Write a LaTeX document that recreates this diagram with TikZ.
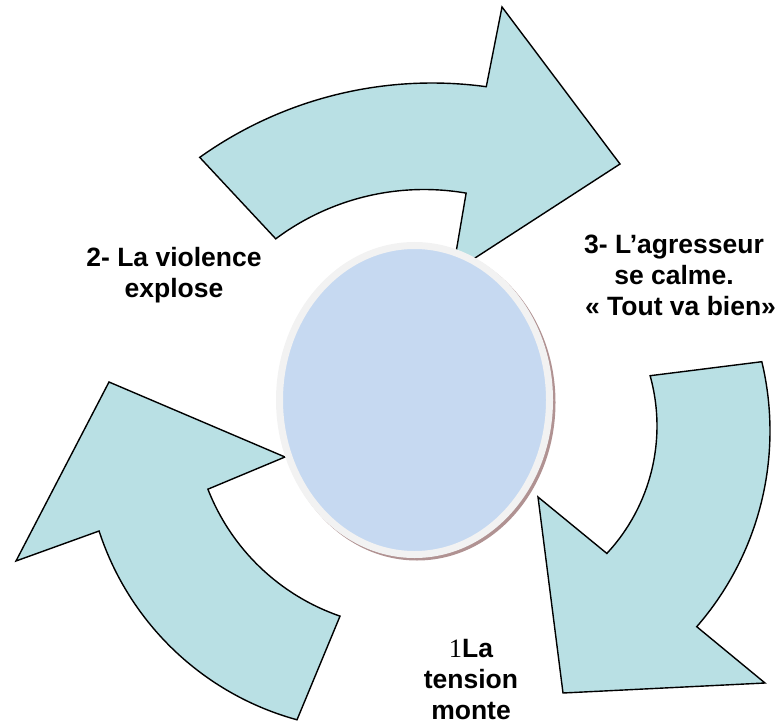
\documentclass[tikz,border=0pt]{standalone}
\usepackage{fontspec}
\setmainfont{Liberation Sans}
\newfontfamily\serifone{Liberation Serif}
\usetikzlibrary{calc,shapes.geometric}
\definecolor{arrowfill}{RGB}{185,224,228}
\definecolor{circfill}{RGB}{198,217,241}
\definecolor{circrim}{RGB}{242,242,242}
\definecolor{circshadow}{RGB}{176,146,146}
\tikzset{
  cyclearrow/.style={fill=arrowfill, draw=black, line width=1.4pt, line join=miter},
  cyclabel/.style={font=\fontsize{26.5}{31}\selectfont\bfseries, align=center, inner sep=0pt},
}
\begin{document}
\begin{tikzpicture}[x=1pt,y=1pt]
\useasboundingbox (0,0) rectangle (778,724);
% arc centres
\coordinate (TAo) at (432,241);
\coordinate (TAi) at (424,287);
\coordinate (LAo) at (373,282);
\coordinate (LAi) at (411,314);
\coordinate (RAo) at (472,293);
\coordinate (RAi) at (470,298);
% top arrow
\path[cyclearrow] ($(TAo)+(125.5:400pt)$) arc[start angle=125.5, end angle=82.2, radius=400pt]
  -- (502,717) -- (620,560) -- (452.6,451.5)
  -- ($(TAi)+(80.2:247.5pt)$) arc[start angle=80.2, end angle=126.8, radius=247.5pt] -- cycle;
% left arrow
\path[cyclearrow] ($(LAo)+(254.7:288pt)$) arc[start angle=254.7, end angle=198, radius=288pt]
  -- (16,163) -- (109,342) -- (285,267)
  -- ($(LAi)+(201.3:218pt)$) arc[start angle=201.3, end angle=251, radius=218pt] -- cycle;
% right arrow
\path[cyclearrow] ($(RAo)+(13.45:298pt)$) arc[start angle=13.45, end angle=-41.05, radius=298pt]
  -- (765,41) -- (563,31) -- (538,227)
  -- ($(RAi)+(-42.96:187pt)$) arc[start angle=-42.96, end angle=15.6, radius=187pt] -- cycle;
% central circle
\fill[circshadow] (417,321.5) ellipse [x radius=138.5pt, y radius=158pt];
\node[ellipse, draw=circrim, line width=7pt, fill=circfill, minimum width=270pt, minimum height=309pt, inner sep=0pt] (hub) at (414.5,324) {};
% labels
\node[cyclabel] (l2) at (174,449) {2- La violence\\explose};
\node[cyclabel] (l3) at (674,449) {3- L’agresseur\\se calme.\\\hspace*{13pt}« Tout va bien»};
\node[cyclabel] (l1) at (471,44) {{\serifone\mdseries 1}La\\tension\\monte};
\end{tikzpicture}
\end{document}
